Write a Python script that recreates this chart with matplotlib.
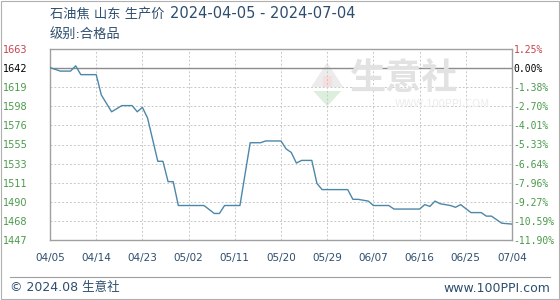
import numpy as np
import pandas as pd
import matplotlib
matplotlib.use("Agg")
import matplotlib.pyplot as plt
from matplotlib.lines import Line2D
from matplotlib.patches import Rectangle, Polygon


# ============================================================
# DATA
# ============================================================

dates = [
    "2024-04-05", "2024-04-07", "2024-04-09", "2024-04-10", "2024-04-11",
    "2024-04-14", "2024-04-15", "2024-04-17", "2024-04-19", "2024-04-21",
    "2024-04-22", "2024-04-23", "2024-04-24", "2024-04-26", "2024-04-27",
    "2024-04-28", "2024-04-29", "2024-04-30", "2024-05-05", "2024-05-07",
    "2024-05-08", "2024-05-09", "2024-05-12", "2024-05-14", "2024-05-16",
    "2024-05-17", "2024-05-20", "2024-05-21", "2024-05-22", "2024-05-23",
    "2024-05-24", "2024-05-26", "2024-05-27", "2024-05-28", "2024-06-02",
    "2024-06-03", "2024-06-04", "2024-06-06", "2024-06-07", "2024-06-10",
    "2024-06-11", "2024-06-16", "2024-06-17", "2024-06-18", "2024-06-19",
    "2024-06-20", "2024-06-22", "2024-06-23", "2024-06-24", "2024-06-26",
    "2024-06-28", "2024-06-29", "2024-06-30", "2024-07-01", "2024-07-02",
    "2024-07-04",
]

prices = [
    1642, 1638, 1638, 1644, 1634,
    1634, 1611, 1592, 1599, 1599,
    1592, 1597, 1585, 1536, 1536,
    1513, 1513, 1486, 1486, 1477,
    1477, 1486, 1486, 1557, 1557,
    1559, 1559, 1550, 1546, 1534,
    1537, 1537, 1511, 1504, 1504,
    1493, 1493, 1491, 1486, 1486,
    1482, 1482, 1487, 1485, 1491,
    1488, 1486, 1484, 1487, 1478,
    1478, 1474, 1474, 1470, 1466,
    1465,
]

base_price = 1642

y_labels = ["1447", "1468", "1490", "1511", "1533", "1555",
            "1576", "1598", "1619", "1642", "1663"]

pct_labels = ["-11.90%", "-10.59%", "-9.27%", "-7.96%", "-6.64%", "-5.33%",
              "-4.01%", "-2.70%", "-1.38%", "0.00%", "1.25%"]

x_labels = ["04/05", "04/14", "04/23", "05/02", "05/11", "05/20",
            "05/29", "06/07", "06/16", "06/25", "07/04"]

title_cn = "石油焦 山东 生产价"
title_dates = "2024-04-05 - 2024-07-04"
subtitle = "级别:合格品"


# ============================================================
# STYLE
# ============================================================

plt.rcParams["font.family"] = ["Noto Sans CJK SC", "DejaVu Sans"]
MIXED = ["DejaVu Sans", "Noto Sans CJK SC"]

LINE_COLOR = "#4d87a8"
GREEN = "#4a9a4a"
RED = "#c8414b"
BLUE_TEXT = "#2d4e6e"
GRID = "#c8c8c8"

dt = pd.to_datetime(dates)
start = pd.Timestamp("2024-04-05")
end = pd.Timestamp("2024-07-04")

y_min, y_max = 1447, 1663
y_ticks = np.linspace(y_min, y_max, len(y_labels))
x_ticks = pd.date_range(start, end, periods=len(x_labels))


# ============================================================
# FIGURE
# ============================================================

fig = plt.figure(figsize=(5.6, 3.0), dpi=100)
ax = fig.add_axes([50 / 560, 1 - 240 / 300, 462 / 560, 191 / 300])

# watermark
fig.text(350 / 560, 1 - 78 / 300, "生意社", fontsize=26, color="#e2e2e2",
         ha="left", va="center", fontweight="bold", zorder=0)
fig.text(442 / 560, 1 - 104 / 300, "WWW.100PPI.COM", fontsize=8,
         color="#ececec", ha="center", va="center", zorder=0)
ax.add_patch(Polygon([(0.565, 0.80), (0.600, 0.93), (0.635, 0.80)],
                     closed=True, transform=ax.transAxes,
                     facecolor="#ececec", edgecolor="none", zorder=0))
ax.add_patch(Polygon([(0.570, 0.78), (0.630, 0.78), (0.600, 0.70)],
                     closed=True, transform=ax.transAxes,
                     facecolor="#dcefdc", edgecolor="none", zorder=0))
ax.add_patch(Rectangle((0.590, 0.80), 0.02, 0.06, transform=ax.transAxes,
                       facecolor="#f4dede", edgecolor="none", zorder=0))

ax.plot(dt, prices, color=LINE_COLOR, linewidth=1.0, zorder=3)

ax.axhline(base_price, color="#8c8c8c", linewidth=1.0, zorder=2)

ax.set_xlim(start, end)
ax.set_ylim(y_min, y_max)

ax.set_yticks(y_ticks)
ax.set_yticklabels(y_labels, family="DejaVu Sans")
ax.set_xticks(x_ticks)
ax.set_xticklabels(x_labels, family="DejaVu Sans")

ax.grid(True, color=GRID, linestyle=(0, (2, 2)), linewidth=0.7)
ax.set_axisbelow(True)

for spine in ax.spines.values():
    spine.set_color("#a0a0a0")
    spine.set_linewidth(1.0)

ax.tick_params(axis="y", length=0, pad=16, labelsize=7)
ax.tick_params(axis="x", length=0, pad=9, labelsize=7.5,
               labelcolor=BLUE_TEXT)

for lab in ax.get_yticklabels():
    lab.set_color(GREEN)
ax.get_yticklabels()[-1].set_color(RED)
ax.get_yticklabels()[-2].set_color("black")

# right axis (percent change)
ax2 = ax.twinx()
ax2.set_ylim(y_min, y_max)
ax2.set_yticks(y_ticks)
ax2.set_yticklabels(pct_labels, family="DejaVu Sans Mono")
ax2.tick_params(axis="y", length=0, pad=1, labelsize=7)
for spine in ax2.spines.values():
    spine.set_visible(False)
for lab in ax2.get_yticklabels():
    lab.set_color(GREEN)
ax2.get_yticklabels()[-1].set_color(RED)
ax2.get_yticklabels()[-2].set_color("black")

# titles
fig.text(50 / 560, 1 - 14 / 300, title_cn, fontsize=9.5, color=BLUE_TEXT,
         ha="left", va="center", family=MIXED)
fig.text(170 / 560, 1 - 14 / 300, title_dates, fontsize=10.5,
         color=BLUE_TEXT, ha="left", va="center", family="DejaVu Sans")
fig.text(50 / 560, 1 - 34 / 300, subtitle, fontsize=9.5, color=BLUE_TEXT,
         ha="left", va="center", family=MIXED)

# footer
fig.add_artist(Line2D([10 / 560, 550 / 560], [1 - 277 / 300, 1 - 277 / 300],
                      color="#a0a0a0", linewidth=0.8))
fig.text(10 / 560, 1 - 288 / 300, "© 2024.08 生意社", fontsize=9,
         color=BLUE_TEXT, ha="left", va="center", family=MIXED)
fig.text(550 / 560, 1 - 288 / 300, "www.100PPI.com", fontsize=9,
         color=BLUE_TEXT, ha="right", va="center", family=MIXED)

# outer border
fig.add_artist(Rectangle((0.001, 0.002), 0.997, 0.995,
                         transform=fig.transFigure, fill=False,
                         edgecolor="#b0b0b0", linewidth=0.8))

fig.savefig("out.png", dpi=100)
